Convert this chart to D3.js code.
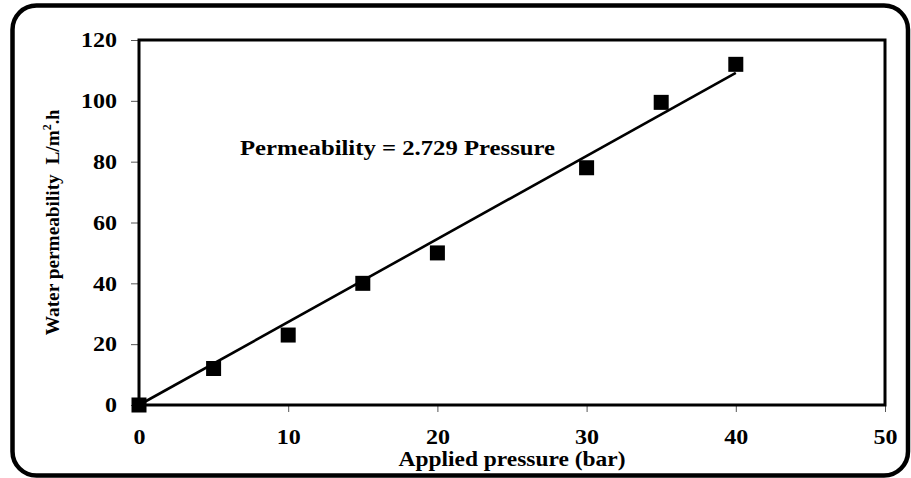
<!DOCTYPE html>
<html>
<head>
<meta charset="utf-8">
<script src="https://cdn.jsdelivr.net/npm/d3@7"></script>
<style>
  html, body { margin: 0; padding: 0; background: #fff; }
  svg { display: block; }
  text { font-family: "Liberation Serif", "Times New Roman", serif; font-weight: bold; fill: #000; }
</style>
</head>
<body>
<svg id="chart" width="911" height="478"></svg>
<script>
// Measured pure-water flux at each applied pressure
const pressure = [0, 5, 10, 15, 20, 30, 35, 40];
const permeability = [0, 12, 23, 40, 50, 78, 99.5, 112];
// Linear fit through the origin
const fitSlope = 2.729;
const fitRange = [0, 40];
const xTicks = [0, 10, 20, 30, 40, 50];
const yTicks = [0, 20, 40, 60, 80, 100, 120];
const equationLabel = "Permeability = 2.729 Pressure";
const xTitle = "Applied pressure (bar)";

const svg = d3.select("#chart");
const plot = { left: 139, right: 885, top: 40, bottom: 405 };

// Rounded outer frame
svg.append("rect")
  .attr("x", 12.5).attr("y", 5.5)
  .attr("width", 908 - 12.5).attr("height", 475.5 - 5.5)
  .attr("rx", 24).attr("ry", 24)
  .attr("fill", "#fff").attr("stroke", "#000").attr("stroke-width", 4.5);

const x = d3.scaleLinear().domain([0, 50]).range([plot.left, plot.right]);
const y = d3.scaleLinear().domain([0, 120]).range([plot.bottom, plot.top]);

// Axes (ticks only; the frame is drawn separately)
const xAxis = svg.append("g")
  .attr("transform", `translate(0,${plot.bottom})`)
  .call(d3.axisBottom(x).tickValues(xTicks).tickSize(7).tickPadding(18).tickFormat(d3.format("d")));
const yAxis = svg.append("g")
  .attr("transform", `translate(${plot.left},0)`)
  .call(d3.axisLeft(y).tickValues(yTicks).tickSize(8).tickPadding(14).tickFormat(d3.format("d")));

// Tick labels: wide bold serif digits
[xAxis, yAxis].forEach(g => {
  g.select(".domain").remove();
  g.selectAll(".tick line").attr("stroke", "#555").attr("stroke-width", 1);
  g.selectAll(".tick text")
    .attr("font-size", 20)
    .style("font-family", '"Liberation Serif", serif')
    .style("font-weight", "bold")
    .attr("fill", "#000")
    .attr("textLength", function () { return this.textContent.length * 12; })
    .attr("lengthAdjust", "spacingAndGlyphs");
});
xAxis.selectAll(".tick text").attr("dy", "0.71em");
yAxis.selectAll(".tick text").attr("dy", "0.34em");

// Plot-area box
svg.append("rect")
  .attr("x", plot.left).attr("y", plot.top)
  .attr("width", plot.right - plot.left).attr("height", plot.bottom - plot.top)
  .attr("fill", "none").attr("stroke", "#000").attr("stroke-width", 3);

// Fitted line
svg.append("line")
  .attr("x1", x(fitRange[0])).attr("y1", y(fitSlope * fitRange[0]))
  .attr("x2", x(fitRange[1])).attr("y2", y(fitSlope * fitRange[1]))
  .attr("stroke", "#000").attr("stroke-width", 2.6);

// Square markers
const size = 15;
svg.append("g").selectAll("rect")
  .data(pressure.map((p, i) => ({ p, v: permeability[i] })))
  .join("rect")
  .attr("x", d => x(d.p) - size / 2)
  .attr("y", d => y(d.v) - size / 2)
  .attr("width", size).attr("height", size)
  .attr("fill", "#000");

// Fit equation
svg.append("text")
  .attr("x", 240).attr("y", 155)
  .attr("font-size", 20)
  .attr("textLength", 315).attr("lengthAdjust", "spacingAndGlyphs")
  .text(equationLabel);

// Axis titles
svg.append("text")
  .attr("x", (plot.left + plot.right) / 2).attr("y", 466)
  .attr("text-anchor", "middle")
  .attr("font-size", 20)
  .attr("textLength", 227).attr("lengthAdjust", "spacingAndGlyphs")
  .text(xTitle);

const yTitle = svg.append("text")
  .attr("transform", `translate(59,${(plot.top + plot.bottom) / 2}) rotate(-90)`)
  .attr("text-anchor", "middle")
  .attr("font-size", 18);
yTitle.append("tspan")
  .attr("textLength", 205).attr("lengthAdjust", "spacingAndGlyphs")
  .text("Water permeability\u00a0\u00a0L/m");
yTitle.append("tspan").attr("font-size", 12).attr("dy", -8).text("2");
yTitle.append("tspan").attr("dy", 8).text(".h");
</script>
</body>
</html>
